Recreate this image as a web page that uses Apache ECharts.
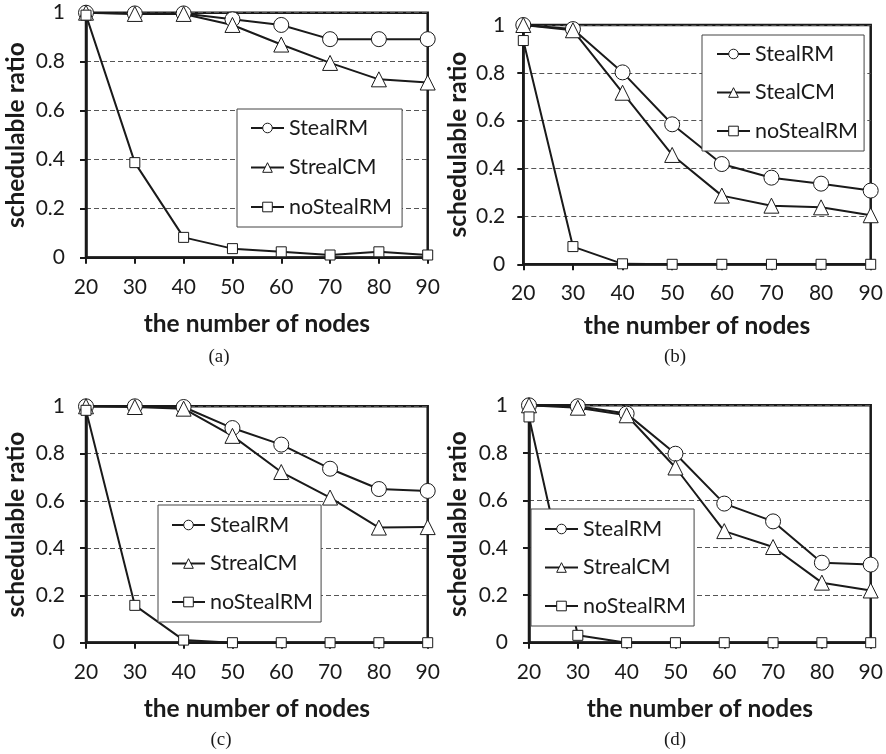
<!DOCTYPE html>
<html>
<head>
<meta charset="utf-8">
<title>schedulable ratio vs. number of nodes</title>
<script src="https://cdn.jsdelivr.net/npm/echarts@6/dist/echarts.min.js"></script>
<style>
  html, body { margin: 0; padding: 0; background: #fff; }
  #chart { width: 886px; height: 754px; }
</style>
</head>
<body>
<div id="chart"></div>
<script>
// x-axis categories (number of nodes)
const nodes = ['20', '30', '40', '50', '60', '70', '80', '90'];

// panel (a)
const stealRM_a   = [1.000, 0.997, 0.997, 0.973, 0.950, 0.892, 0.892, 0.892];
const strealCM_a  = [1.000, 0.995, 0.995, 0.950, 0.870, 0.795, 0.728, 0.715];
const noStealRM_a = [0.990, 0.388, 0.083, 0.037, 0.024, 0.011, 0.024, 0.011];

// panel (b)
const stealRM_b   = [1.000, 0.983, 0.802, 0.585, 0.419, 0.362, 0.337, 0.308];
const stealCM_b   = [1.000, 0.978, 0.717, 0.457, 0.287, 0.245, 0.238, 0.205];
const noStealRM_b = [0.935, 0.074, 0.002, 0.000, 0.000, 0.000, 0.000, 0.000];

// panel (c)
const stealRM_c   = [1.000, 1.000, 0.997, 0.908, 0.838, 0.736, 0.650, 0.642];
const strealCM_c  = [1.000, 0.997, 0.990, 0.875, 0.722, 0.614, 0.487, 0.489];
const noStealRM_c = [0.983, 0.158, 0.011, 0.000, 0.000, 0.000, 0.000, 0.000];

// panel (d)
const stealRM_d   = [1.000, 0.996, 0.965, 0.796, 0.586, 0.511, 0.337, 0.329];
const strealCM_d  = [1.000, 0.990, 0.958, 0.738, 0.470, 0.403, 0.253, 0.220];
const noStealRM_d = [0.951, 0.031, 0.000, 0.000, 0.000, 0.000, 0.000, 0.000];

const panelLabels = ['(a)', '(b)', '(c)', '(d)'];
const xTitle = 'the number of nodes';
const yTitle = 'schedulable ratio';

const INK = '#1a1a1a';
const FONT = 'Lato';
const TICK_SIZE = 21;
const TITLE_SIZE = 24.5;
const LEGEND_SIZE = 21.5;

const panels = [
  {
    grid: { left: 86, top: 12.7, width: 341.7, height: 245 },
    yMargin: 21, yNameGap: 60, xNameGap: 56, xMargin: 19,
    label: { x: 219, y: 357 },
    legend: { left: 237, top: 109, padding: [8, 10, 9, 13], gap: 17.5 },
    series: [
      { name: 'StealRM', data: stealRM_a, symbol: 'circle', size: 15 },
      { name: 'StrealCM', data: strealCM_a, symbol: 'triangle', size: 15 },
      { name: 'noStealRM', data: noStealRM_a, symbol: 'rect', size: 10 }
    ]
  },
  {
    grid: { left: 523.3, top: 25, width: 347.4, height: 239.3 },
    yMargin: 18, yNameGap: 55, xNameGap: 52, xMargin: 18,
    label: { x: 675, y: 357 },
    legend: { left: 702, top: 35, padding: [8, 6, 9, 14], gap: 16.5 },
    series: [
      { name: 'StealRM', data: stealRM_b, symbol: 'circle', size: 15 },
      { name: 'StealCM', data: stealCM_b, symbol: 'triangle', size: 15 },
      { name: 'noStealRM', data: noStealRM_b, symbol: 'rect', size: 10 }
    ]
  },
  {
    grid: { left: 86, top: 406.3, width: 341.7, height: 236.4 },
    yMargin: 21, yNameGap: 60, xNameGap: 56, xMargin: 19,
    label: { x: 221, y: 740 },
    legend: { left: 158, top: 505, padding: [9, 8, 9, 13], gap: 16.5 },
    series: [
      { name: 'StealRM', data: stealRM_c, symbol: 'circle', size: 15 },
      { name: 'StrealCM', data: strealCM_c, symbol: 'triangle', size: 15 },
      { name: 'noStealRM', data: noStealRM_c, symbol: 'rect', size: 10 }
    ]
  },
  {
    grid: { left: 529, top: 405.3, width: 341.7, height: 237.4 },
    yMargin: 21, yNameGap: 61, xNameGap: 56, xMargin: 19,
    label: { x: 675, y: 740 },
    legend: { left: 531, top: 509, padding: [9, 8, 9, 13], gap: 16.5 },
    series: [
      { name: 'StealRM', data: stealRM_d, symbol: 'circle', size: 15 },
      { name: 'StrealCM', data: strealCM_d, symbol: 'triangle', size: 15 },
      { name: 'noStealRM', data: noStealRM_d, symbol: 'rect', size: 10 }
    ]
  }
];

const option = {
  animation: false,
  backgroundColor: '#fff',
  textStyle: { fontFamily: FONT, color: INK },
  grid: [], xAxis: [], yAxis: [], series: [], legend: [], graphic: []
};

panels.forEach((p, i) => {
  option.grid.push(Object.assign({
    show: true, borderColor: INK, borderWidth: 2.5, backgroundColor: 'transparent',
    containLabel: false
  }, p.grid));

  option.xAxis.push({
    gridIndex: i,
    type: 'category',
    data: nodes,
    boundaryGap: false,
    name: xTitle,
    nameLocation: 'middle',
    nameGap: p.xNameGap,
    nameTextStyle: { fontFamily: FONT, fontSize: TITLE_SIZE, fontWeight: 'bold', color: INK, lineHeight: 20 },
    axisLine: { show: true, onZero: false, lineStyle: { color: INK, width: 2.5 } },
    axisTick: { show: true, inside: false, length: 6, lineStyle: { color: INK, width: 2 } },
    axisLabel: { fontFamily: FONT, fontSize: TICK_SIZE, color: INK, margin: p.xMargin },
    splitLine: { show: false }
  });

  option.yAxis.push({
    gridIndex: i,
    type: 'value',
    min: 0, max: 1, interval: 0.2,
    name: yTitle,
    nameLocation: 'middle',
    nameRotate: 90,
    nameGap: p.yNameGap,
    nameTextStyle: { fontFamily: FONT, fontSize: TITLE_SIZE, fontWeight: 'bold', color: INK, lineHeight: 20 },
    axisLine: { show: true, lineStyle: { color: INK, width: 2.5 } },
    axisTick: { show: true, inside: false, length: 6, lineStyle: { color: INK, width: 2 } },
    axisLabel: { fontFamily: FONT, fontSize: TICK_SIZE, color: INK, margin: p.yMargin },
    splitLine: { show: true, lineStyle: { color: '#555', width: 1, type: [5, 3] } }
  });

  p.series.forEach(s => {
    option.series.push({
      name: s.name,
      type: 'line',
      xAxisIndex: i, yAxisIndex: i,
      data: s.data,
      symbol: s.symbol,
      symbolSize: s.size,
      showAllSymbol: true,
      lineStyle: { color: INK, width: 2 },
      itemStyle: { color: '#fff', borderColor: INK, borderWidth: 1 },
      emphasis: { disabled: true }
    });
  });

  option.legend.push({
    orient: 'vertical',
    left: p.legend.left, top: p.legend.top,
    padding: p.legend.padding,
    itemGap: p.legend.gap,
    itemWidth: 33, itemHeight: 12,
    backgroundColor: '#fff',
    borderColor: '#444', borderWidth: 1,
    data: p.series.map(s => s.name),
    selectedMode: false,
    lineStyle: { color: INK, width: 2 },
    itemStyle: { color: '#fff', borderColor: INK, borderWidth: 1 },
    textStyle: { fontFamily: FONT, fontSize: LEGEND_SIZE, color: INK, lineHeight: 20 }
  });

  option.graphic.push({
    type: 'text',
    x: p.label.x, y: p.label.y,
    style: {
      text: panelLabels[i],
      font: '19px "Liberation Serif", serif',
      fill: INK,
      textAlign: 'center',
      textVerticalAlign: 'middle'
    }
  });
});

const chart = echarts.init(document.getElementById('chart'), null, { renderer: 'canvas' });
chart.setOption(option);
</script>
</body>
</html>
